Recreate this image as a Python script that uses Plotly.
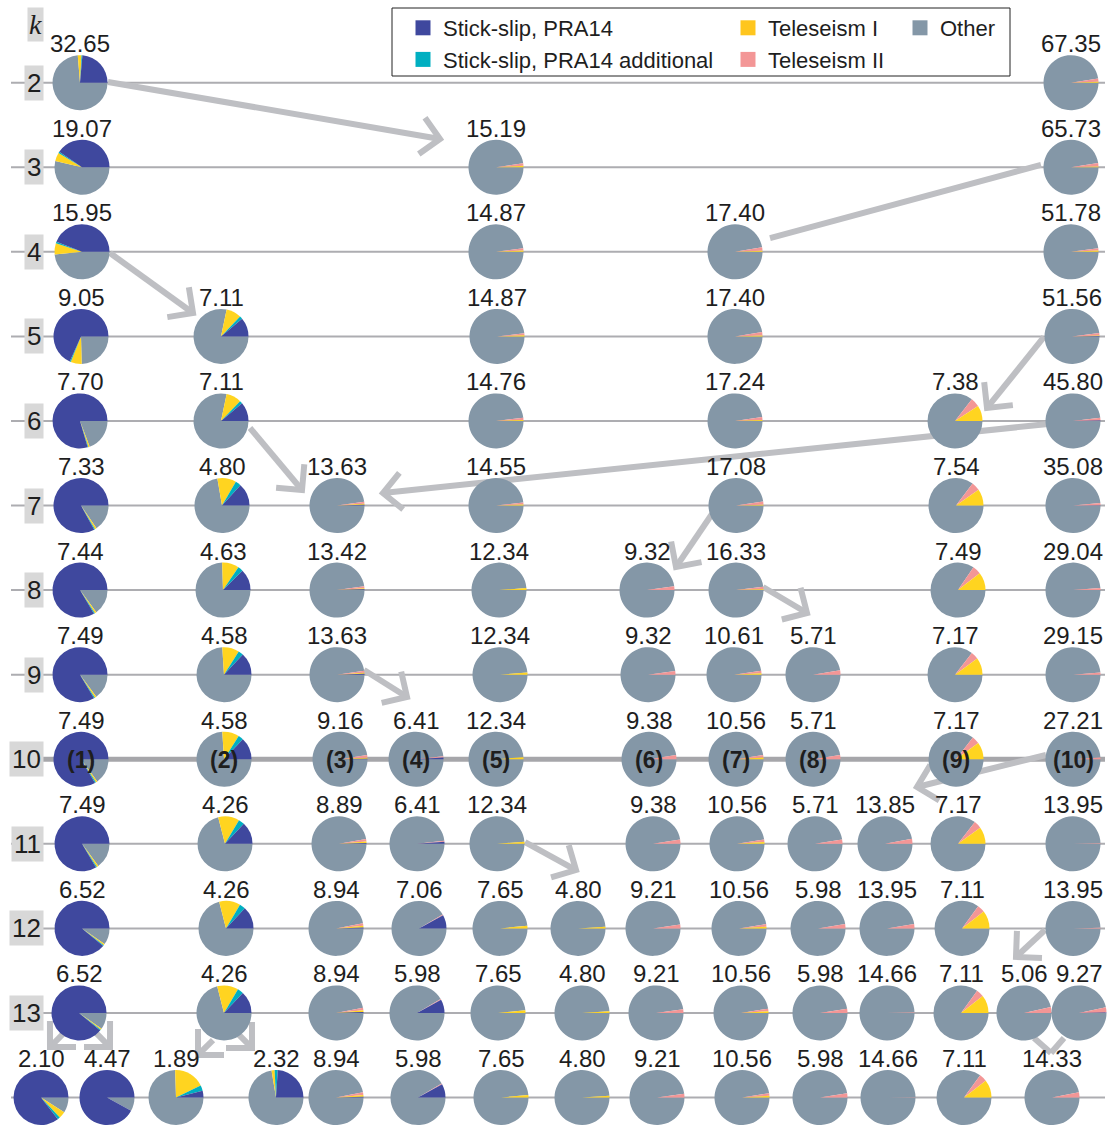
import plotly.graph_objects as go

# ---------------------------------------------------------------- data
CATEGORIES = ["Stick-slip, PRA14", "Stick-slip, PRA14 additional",
              "Teleseism I", "Teleseism II", "Other"]
COLORS = ["#3F489E", "#00AFC1", "#FFD420", "#F39696", "#8497A7"]
LEGEND_COLORS = ["#3F489E", "#00AFC1", "#FFC61E", "#F39696", "#8497A7"]

K_LABELS = list(range(2, 14))

# share of all events (%) held by each cluster, left to right on each row
SHARES = {
    2: ["32.65", "67.35"],
    3: ["19.07", "15.19", "65.73"],
    4: ["15.95", "14.87", "17.40", "51.78"],
    5: ["9.05", "7.11", "14.87", "17.40", "51.56"],
    6: ["7.70", "7.11", "14.76", "17.24", "7.38", "45.80"],
    7: ["7.33", "4.80", "13.63", "14.55", "17.08", "7.54", "35.08"],
    8: ["7.44", "4.63", "13.42", "12.34", "9.32", "16.33", "7.49", "29.04"],
    9: ["7.49", "4.58", "13.63", "12.34", "9.32", "10.61", "5.71", "7.17", "29.15"],
    10: ["7.49", "4.58", "9.16", "6.41", "12.34", "9.38", "10.56", "5.71", "7.17", "27.21"],
    11: ["7.49", "4.26", "8.89", "6.41", "12.34", "9.38", "10.56", "5.71", "13.85",
         "7.17", "13.95"],
    12: ["6.52", "4.26", "8.94", "7.06", "7.65", "4.80", "9.21", "10.56", "5.98",
         "13.95", "7.11", "13.95"],
    13: ["6.52", "4.26", "8.94", "5.98", "7.65", "4.80", "9.21", "10.56", "5.98",
         "14.66", "7.11", "5.06", "9.27"],
    14: ["2.10", "4.47", "1.89", "2.32", "8.94", "5.98", "7.65", "4.80", "9.21",
         "10.56", "5.98", "14.66", "7.11", "14.33"],
}

# composition of each cluster (%): stick-slip, stick-slip add., teleseism I, teleseism II, other
COMPOSITION = {
    2: [[23.6, 0.5, 2.2, 0.0, 73.7], [0.0, 0.0, 0.5, 2.0, 97.5]],
    3: [[40.5, 0.8, 5.0, 0.0, 53.7], [0.0, 0.0, 0.8, 1.5, 97.7],
        [0.0, 0.0, 0.4, 2.0, 97.6]],
    4: [[44.0, 1.0, 6.5, 0.0, 48.5], [0.0, 0.0, 0.8, 1.3, 97.9],
        [0.0, 0.0, 0.6, 2.0, 97.4], [0.0, 0.0, 0.8, 1.2, 98.0]],
    5: [[68.3, 0.6, 6.5, 0.0, 24.6], [11.1, 1.7, 8.9, 0.0, 78.3],
        [0.0, 0.0, 0.6, 1.2, 98.2], [0.0, 0.0, 0.5, 2.0, 97.5],
        [0.2, 0.0, 0.3, 1.5, 98.0]],
    6: [[79.5, 0.4, 0.8, 0.0, 19.3], [11.1, 1.7, 8.9, 0.0, 78.3],
        [0.0, 0.0, 0.6, 1.2, 98.2], [0.0, 0.0, 0.5, 1.8, 97.7],
        [0.0, 0.0, 9.2, 5.3, 85.5], [0.3, 0.0, 0.0, 1.6, 98.1]],
    7: [[83.0, 0.5, 1.0, 0.0, 15.5], [13.3, 3.3, 11.1, 0.0, 72.3],
        [0.5, 0.0, 0.5, 1.2, 97.8], [0.0, 0.0, 0.6, 1.2, 98.2],
        [0.0, 0.0, 0.5, 1.8, 97.7], [0.0, 0.0, 9.7, 5.0, 85.3],
        [0.2, 0.0, 0.0, 1.2, 98.6]],
    8: [[83.5, 0.6, 1.0, 0.0, 14.9], [12.5, 3.0, 10.0, 0.0, 74.5],
        [0.5, 0.0, 0.5, 1.2, 97.8], [0.0, 0.0, 1.2, 0.0, 98.8],
        [0.0, 0.0, 0.0, 2.2, 97.8], [0.0, 0.0, 0.5, 1.5, 98.0],
        [0.0, 0.0, 10.5, 5.0, 84.5], [0.0, 0.0, 0.0, 1.2, 98.8]],
    9: [[83.5, 0.6, 1.0, 0.0, 14.9], [13.0, 3.0, 10.0, 0.0, 74.0],
        [0.5, 0.0, 0.6, 1.2, 97.7], [0.0, 0.0, 1.2, 0.0, 98.8],
        [0.0, 0.0, 0.0, 2.2, 97.8], [0.0, 0.0, 0.8, 1.5, 97.7],
        [0.0, 0.0, 0.0, 2.5, 97.5], [0.0, 0.0, 10.0, 4.5, 85.5],
        [0.0, 0.0, 0.0, 1.2, 98.8]],
    10: [[83.5, 0.6, 1.0, 0.0, 14.9], [13.0, 3.0, 10.0, 0.0, 74.0],
         [0.3, 0.0, 0.6, 1.5, 97.6], [1.0, 0.0, 0.0, 0.8, 98.2],
         [0.0, 0.0, 1.2, 0.0, 98.8], [0.0, 0.0, 0.0, 2.5, 97.5],
         [0.0, 0.0, 1.0, 1.5, 97.5], [0.0, 0.0, 0.0, 2.5, 97.5],
         [0.0, 0.0, 10.0, 4.5, 85.5], [0.0, 0.0, 0.0, 1.0, 99.0]],
    11: [[83.5, 0.6, 1.0, 0.0, 14.9], [13.0, 3.5, 12.5, 0.0, 71.0],
         [0.5, 0.0, 0.8, 1.5, 97.2], [1.2, 0.0, 0.0, 0.6, 98.2],
         [0.0, 0.0, 1.2, 0.0, 98.8], [0.0, 0.0, 0.0, 2.5, 97.5],
         [0.0, 0.0, 1.0, 1.5, 97.5], [0.0, 0.0, 0.0, 2.5, 97.5],
         [0.0, 0.0, 0.0, 3.0, 97.0], [0.0, 0.0, 10.0, 4.5, 85.5],
         [0.0, 0.0, 0.0, 0.3, 99.7]],
    12: [[89.0, 0.5, 0.8, 0.0, 9.7], [13.0, 3.5, 12.5, 0.0, 71.0],
         [0.5, 0.0, 1.0, 1.5, 97.0], [8.0, 0.0, 0.0, 0.5, 91.5],
         [0.0, 0.0, 1.5, 0.0, 98.5], [0.0, 0.0, 1.0, 0.0, 99.0],
         [0.0, 0.0, 0.0, 2.2, 97.8], [0.0, 0.0, 1.0, 1.5, 97.5],
         [0.0, 0.0, 0.0, 2.5, 97.5], [0.0, 0.0, 0.0, 2.5, 97.5],
         [0.0, 0.0, 10.5, 4.5, 85.0], [0.0, 0.0, 0.0, 0.3, 99.7]],
    13: [[89.0, 0.5, 0.8, 0.0, 9.7], [13.0, 3.5, 12.5, 0.0, 71.0],
         [0.5, 0.0, 1.0, 1.5, 97.0], [8.0, 0.0, 0.0, 0.5, 91.5],
         [0.0, 0.0, 1.5, 0.0, 98.5], [0.0, 0.0, 1.0, 0.0, 99.0],
         [0.0, 0.0, 0.0, 2.2, 97.8], [0.0, 0.0, 1.0, 1.5, 97.5],
         [0.0, 0.0, 0.0, 2.5, 97.5], [0.0, 0.0, 0.0, 0.2, 99.8],
         [0.0, 0.0, 10.5, 4.5, 85.0], [0.0, 0.0, 0.0, 3.5, 96.5],
         [0.3, 0.0, 0.0, 3.0, 96.7]],
    14: [[85.5, 1.5, 4.0, 0.0, 9.0], [92.0, 0.0, 0.0, 0.0, 8.0],
         [4.0, 3.2, 18.3, 0.0, 74.5], [24.0, 1.8, 1.8, 0.0, 72.4],
         [0.5, 0.0, 1.0, 1.5, 97.0], [8.0, 0.0, 0.0, 0.5, 91.5],
         [0.0, 0.0, 1.5, 0.0, 98.5], [0.0, 0.0, 1.0, 0.0, 99.0],
         [0.0, 0.0, 0.0, 2.2, 97.8], [0.0, 0.0, 1.0, 1.5, 97.5],
         [0.0, 0.0, 0.0, 2.5, 97.5], [0.0, 0.0, 0.0, 0.2, 99.8],
         [0.0, 0.0, 10.5, 4.5, 85.0], [0.0, 0.0, 0.0, 3.0, 97.0]],
}

FINAL_K = 10
FINAL_IDS = ["(1)", "(2)", "(3)", "(4)", "(5)", "(6)", "(7)", "(8)", "(9)", "(10)"]

# ---------------------------------------------------------------- layout
W, H = 1110, 1134
ROW_MID_PX, ROW_STEP_PX, ROW_MID_K = 590.1, 84.57, 8
PIE_R = 27.5

# horizontal slot of every cluster on its row (x-axis units = px)
SLOTS = {
    2: [80, 1071],
    3: [82, 496, 1071],
    4: [82, 496, 735, 1071],
    5: [81, 221, 497, 735, 1072],
    6: [80, 221, 496, 735, 955, 1073],
    7: [81, 222, 337, 496, 736, 956, 1073],
    8: [80, 223, 337, 499, 647, 736, 958, 1073],
    9: [80, 224, 337, 500, 648, 734, 813, 955, 1073],
    10: [81, 224, 340, 416, 496, 649, 736, 813, 956, 1073],
    11: [82, 225, 339, 417, 497, 653, 737, 815, 885, 958, 1073],
    12: [82, 226, 336, 419, 500, 578, 653, 739, 818, 887, 962, 1073],
    13: [79, 224, 336, 417, 498, 582, 656, 741, 820, 887, 961, 1024, 1079],
    14: [41, 107, 176, 276, 336, 418, 501, 582, 657, 742, 820, 888, 964, 1052],
}

# cluster hand-overs between levels: (x0, k0, x1, k1), drawn with a chevron head
ARROWS = [
    (108, 1.992, 440, 2.666),
    (110, 4.014, 193, 4.723),
    (250, 6.083, 302, 6.817),
    (1048, 6.036, 383, 6.852),
    (1044, 5.007, 987, 5.846),
    (712, 7.100, 676, 7.727),
    (763, 7.963, 807, 8.271),
    (364, 8.945, 407, 9.264),
    (1046, 9.950, 917, 10.328),
    (525, 10.979, 576, 11.310),
    (1045, 12.019, 1016, 12.338),
    (65, 13.225, 50, 13.403),
    (95, 13.225, 110, 13.403),
    (213, 13.320, 198, 13.497),
    (237, 13.237, 252, 13.414),
]
# merges drawn without a head
LINKS = [
    (1041, 2.973, 770, 3.837),
    (1034, 13.296, 1051, 13.474),
    (1064, 13.296, 1051, 13.474),
]

ARROW_COLOR = "#BEBFC3"
HEAD_LEN = 26
NUM_FONT = "Liberation Sans, Arial, sans-serif"
TXT_FONT = "Liberation Sans, Arial, sans-serif"


def k_to_px(k):
    return ROW_MID_PX + ROW_STEP_PX * (k - ROW_MID_K)


def px_to_k(py):
    return ROW_MID_K + (py - ROW_MID_PX) / ROW_STEP_PX


fig = go.Figure()

# chevron-headed connections, built in pixel space and mapped back to k
ax, ay = [], []
for x0, k0, x1, k1 in ARROWS:
    p0, p1 = k_to_px(k0), k_to_px(k1)
    dx, dy = x1 - x0, p1 - p0
    n = (dx * dx + dy * dy) ** 0.5
    ux, uy = -dx / n, -dy / n
    c = s = 0.7071
    a1 = (x1 + HEAD_LEN * (ux * c - uy * s), p1 + HEAD_LEN * (ux * s + uy * c))
    a2 = (x1 + HEAD_LEN * (ux * c + uy * s), p1 + HEAD_LEN * (-ux * s + uy * c))
    ax += [x0, x1, None, a1[0], x1, a2[0], None]
    ay += [k0, k1, None, px_to_k(a1[1]), k1, px_to_k(a2[1]), None]
for x0, k0, x1, k1 in LINKS:
    ax += [x0, x1, None]
    ay += [k0, k1, None]
fig.add_trace(go.Scatter(x=ax, y=ay, mode="lines", showlegend=False,
                         hoverinfo="skip",
                         line=dict(color=ARROW_COLOR, width=6)))

# one pie per cluster; slices are laid clockwise from 3 o'clock in reverse
# category order, so stick-slip ends up just above the 3 o'clock radius
annotations = []
rev_labels = CATEGORIES[::-1]
rev_colors = COLORS[::-1]
for k, labels in SHARES.items():
    for i, (lab, comp) in enumerate(zip(labels, COMPOSITION[k])):
        cx, cy = SLOTS[k][i], k_to_px(k)
        fig.add_trace(go.Pie(
            values=comp[::-1], labels=rev_labels, sort=False,
            direction="clockwise", rotation=90,
            marker=dict(colors=rev_colors, line=dict(width=0)),
            textinfo="none", hoverinfo="label+percent", showlegend=False,
            domain=dict(x=[(cx - PIE_R) / W, (cx + PIE_R) / W],
                        y=[1 - (cy + PIE_R) / H, 1 - (cy - PIE_R) / H]),
        ))
        annotations.append(dict(
            x=cx, y=k, xref="x", yref="y", text=lab, showarrow=False,
            yshift=39, font=dict(family=NUM_FONT, size=24, color="#1E1E1E")))
        if k == FINAL_K:
            annotations.append(dict(
                x=cx, y=k, xref="x", yref="y", text="<b>%s</b>" % FINAL_IDS[i],
                showarrow=False, yshift=-1,
                font=dict(family=TXT_FONT, size=23, color="#1E1E1E")))

# row guides
shapes = []
for k in SHARES:
    shapes.append(dict(type="line", xref="x", yref="y", x0=11, x1=1105, y0=k, y1=k,
                       layer="below",
                       line=dict(color="#A6A6AA" if k == FINAL_K else "#ADADB1",
                                 width=5 if k == FINAL_K else 2)))

# row labels
for k in K_LABELS:
    annotations.append(dict(
        x=44, y=k, xref="x", yref="y", text=str(k), showarrow=False,
        xanchor="right", bgcolor="#D8D8D8", borderpad=2,
        font=dict(family=NUM_FONT, size=26, color="#1E1E1E")))
annotations.append(dict(
    x=44, y=px_to_k(24), xref="x", yref="y", text="<i>k</i>", showarrow=False,
    xanchor="right", bgcolor="#D8D8D8", borderpad=1,
    font=dict(family="Liberation Serif, DejaVu Serif, serif", size=28,
              color="#1E1E1E")))

# legend frame
shapes.append(dict(type="rect", xref="paper", yref="paper",
                   x0=392 / W, x1=1010 / W, y0=1 - 76 / H, y1=1 - 8 / H,
                   line=dict(color="#222222", width=1), fillcolor="white",
                   layer="below"))

# legend entries, split over three columns
LEGEND_COLUMN = ["legend", "legend", "legend2", "legend2", "legend3"]
for name, col, lg in zip(CATEGORIES, LEGEND_COLORS, LEGEND_COLUMN):
    fig.add_trace(go.Scatter(x=[None], y=[None], mode="markers", name=name,
                             legend=lg,
                             marker=dict(symbol="square", size=15, color=col)))

legend_style = dict(bgcolor="rgba(0,0,0,0)", borderwidth=0, yanchor="top",
                    xanchor="left", tracegroupgap=0,
                    font=dict(family=TXT_FONT, size=22, color="#1E1E1E"))

fig.update_layout(
    width=W, height=H, margin=dict(l=0, r=0, t=0, b=0),
    paper_bgcolor="white", plot_bgcolor="white",
    xaxis=dict(range=[0, W], visible=False, fixedrange=True),
    yaxis=dict(range=[px_to_k(H), px_to_k(0)], visible=False, fixedrange=True),
    shapes=shapes, annotations=annotations,
    legend=dict(x=403 / W, y=1 - 7 / H, **legend_style),
    legend2=dict(x=728 / W, y=1 - 7 / H, **legend_style),
    legend3=dict(x=900 / W, y=1 - 7 / H, **legend_style),
)

fig.write_html("out.html")
